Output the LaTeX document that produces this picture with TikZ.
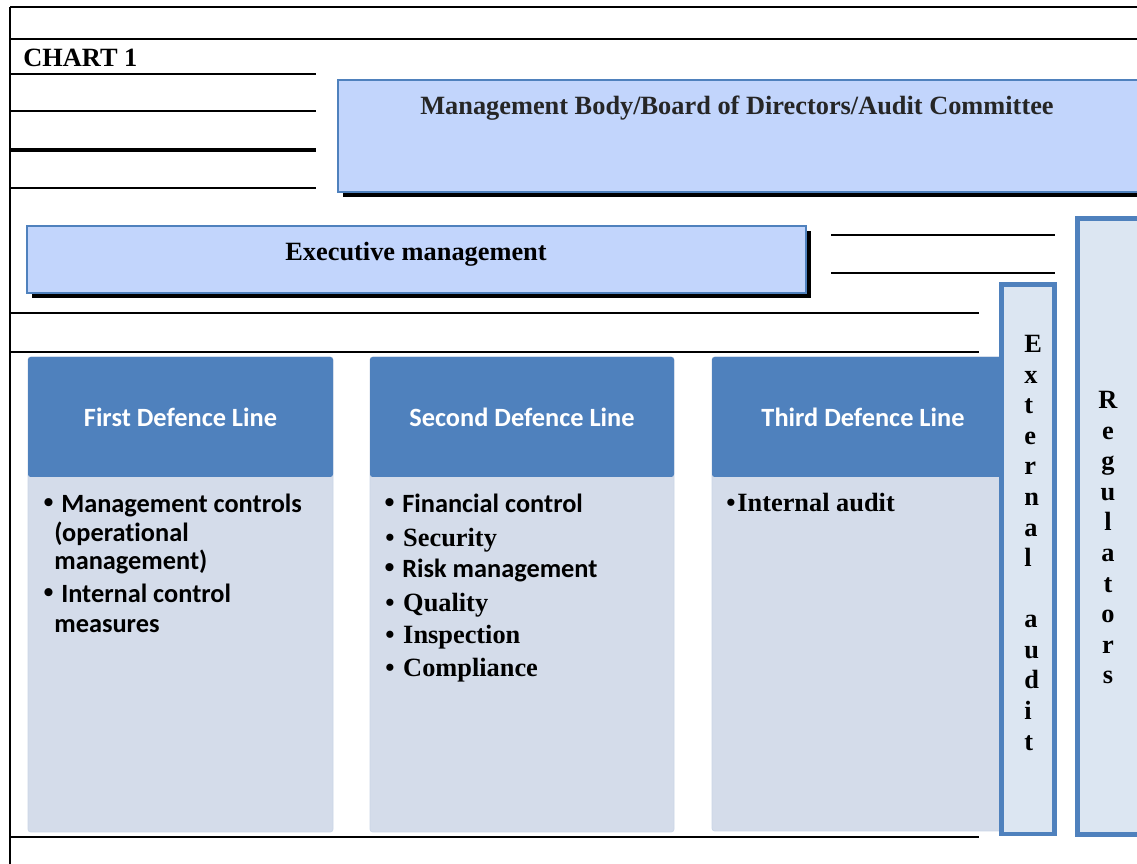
\documentclass[tikz,border=0pt]{standalone}
\usepackage{fontspec}
\setmainfont{Liberation Serif}
\newfontfamily\calibri[Ligatures=NoCommon]{Carlito}
\usetikzlibrary{fit,shadows}

\definecolor{chartBlue}{HTML}{4F81BD}
\definecolor{chartPale}{HTML}{C2D5FC}
\definecolor{chartBody}{HTML}{D4DCEA}
\definecolor{chartSide}{HTML}{DCE6F2}
\definecolor{chartInk}{HTML}{262626}

\tikzset{
  ruleThin/.style={line width=1.1pt, black},
  ruleThick/.style={line width=1.7pt, black},
  boardBox/.style={
    draw=chartBlue,
    line width=0.6pt,
    fill=chartPale,
    inner sep=0pt,
    drop shadow={shadow xshift=2.8pt, shadow yshift=-3pt, opacity=1, fill=black}
  },
  headBox/.style={fill=chartBlue, rounded corners=1.5pt, inner sep=0pt},
  bodyBox/.style={
    fill=chartBody,
    draw=chartBody!92!chartBlue,
    rounded corners=1.5pt,
    inner sep=0pt
  },
  sideBox/.style={draw=chartBlue, line width=2.8pt, fill=chartSide, inner sep=0pt},
  titleText/.style={font=\bfseries\fontsize{15}{18}\selectfont, anchor=base, inner sep=0pt},
  headText/.style={font=\calibri\bfseries\fontsize{15}{18}\selectfont, text=white, inner sep=0pt},
  itemSans/.style={font=\calibri\bfseries\fontsize{15}{18}\selectfont, anchor=base west, inner sep=0pt},
  itemSerif/.style={font=\bfseries\fontsize{15}{18}\selectfont, anchor=base west, inner sep=0pt},
  letterStack/.style={
    font=\bfseries\fontsize{15}{17.4}\selectfont,
    inner sep=0pt,
    anchor=north
  }
}
% serif bullet, a little larger for the sans items
\newcommand{\blt}[1]{\makebox[10.2pt][l]{\normalfont\bfseries\textbullet}#1}
\newcommand{\bltsans}[1]{\makebox[10.2pt][l]{\normalfont\bfseries\fontsize{17}{18}\selectfont\textbullet}#1}

\begin{document}
\begin{tikzpicture}[x=0.02cm,y=-0.02cm]
  \clip (0,0) rectangle (1137,864);

  % frame and ruled lines
  \draw[ruleThin] (10,7) -- (1137,7);
  \draw[ruleThin] (10,7) -- (10,864);
  \draw[ruleThin] (10,39) -- (1137,39);
  \draw[ruleThin] (10,74) -- (316,74);
  \draw[ruleThick] (10,111) -- (316,111);
  \draw[line width=1.9pt] (10,150) -- (316,150);
  \draw[ruleThin] (10,188) -- (316,188);
  \draw[ruleThick] (831,235) -- (1055,235);
  \draw[ruleThick] (831,273) -- (979,273);
  \draw[ruleThin] (979,273) -- (1055,273);
  \draw[ruleThin] (10,313) -- (831,313);
  \draw[ruleThick] (831,313) -- (979,313);
  \draw[ruleThick] (10,352) -- (979,352);
  \draw[ruleThick] (10,837) -- (979,837);

  \node[titleText, anchor=base west] (chart) at (23,67) {CHART 1};

  % governing bodies
  \node[boardBox, fit={(338,80) (1150,192)}] (board) {};
  \node[titleText, text=chartInk] (boardText) at (737,115)
    {Management Body/Board of Directors/Audit Committee};

  \node[boardBox, fit={(27,226) (806,293)}] (exec) {};
  \node[titleText] (execText) at (416,261) {Executive management};

  % three defence lines
  \node[bodyBox, fit={(28,357) (333,832)}] (body1) {};
  \node[headBox, fit={(28,357) (333,477)}] (head1) {};
  \node[headText] (title1) at (head1.center) {First Defence Line};

  \node[bodyBox, fit={(370,357) (674,832)}] (body2) {};
  \node[headBox, fit={(370,357) (674,477)}] (head2) {};
  \node[headText] (title2) at (head2.center) {Second Defence Line};

  \node[bodyBox, fit={(712,357) (1010,831)}] (body3) {};
  \node[headBox, fit={(712,357) (1010,477)}] (head3) {};
  \node[headText] (title3) at (863,417) {Third Defence Line};

  \node[itemSans] (i11) at (43,513) {\bltsans{Management controls}};
  \node[itemSans] (i12) at (54,542) {(operational};
  \node[itemSans] (i13) at (54,570) {management)};
  \node[itemSans] (i14) at (43,603) {\bltsans{Internal control}};
  \node[itemSans] (i15) at (54,633) {measures};

  \node[itemSans] (i21) at (384,513) {\bltsans{Financial control}};
  \node[itemSerif] (i22) at (385,547) {\blt{Security}};
  \node[itemSans] (i23) at (384,578) {\bltsans{Risk management}};
  \node[itemSerif] (i24) at (385,612) {\blt{Quality}};
  \node[itemSerif] (i25) at (385,644) {\blt{Inspection}};
  \node[itemSerif] (i26) at (385,677) {\blt{Compliance}};

  \node[itemSerif] (i31) at (726,512)
    {\makebox[6.3pt][l]{\textbullet}Internal audit};

  % external bodies
  \node[sideBox, fit={(1001.5,284.5) (1054.5,834)}] (extAudit) {};
  \node[letterStack, align=left, anchor=north west] (extText) at (1024,335)
    {E\\x\\t\\e\\r\\n\\a\\l\\ \\a\\u\\d\\i\\t};

  \node[sideBox, fit={(1077.5,218.5) (1160,834.5)}] (regul) {};
  \node[letterStack, align=center] (regText) at (1108,391)
    {R\\e\\g\\u\\l\\a\\t\\o\\r\\s};
\end{tikzpicture}
\end{document}
